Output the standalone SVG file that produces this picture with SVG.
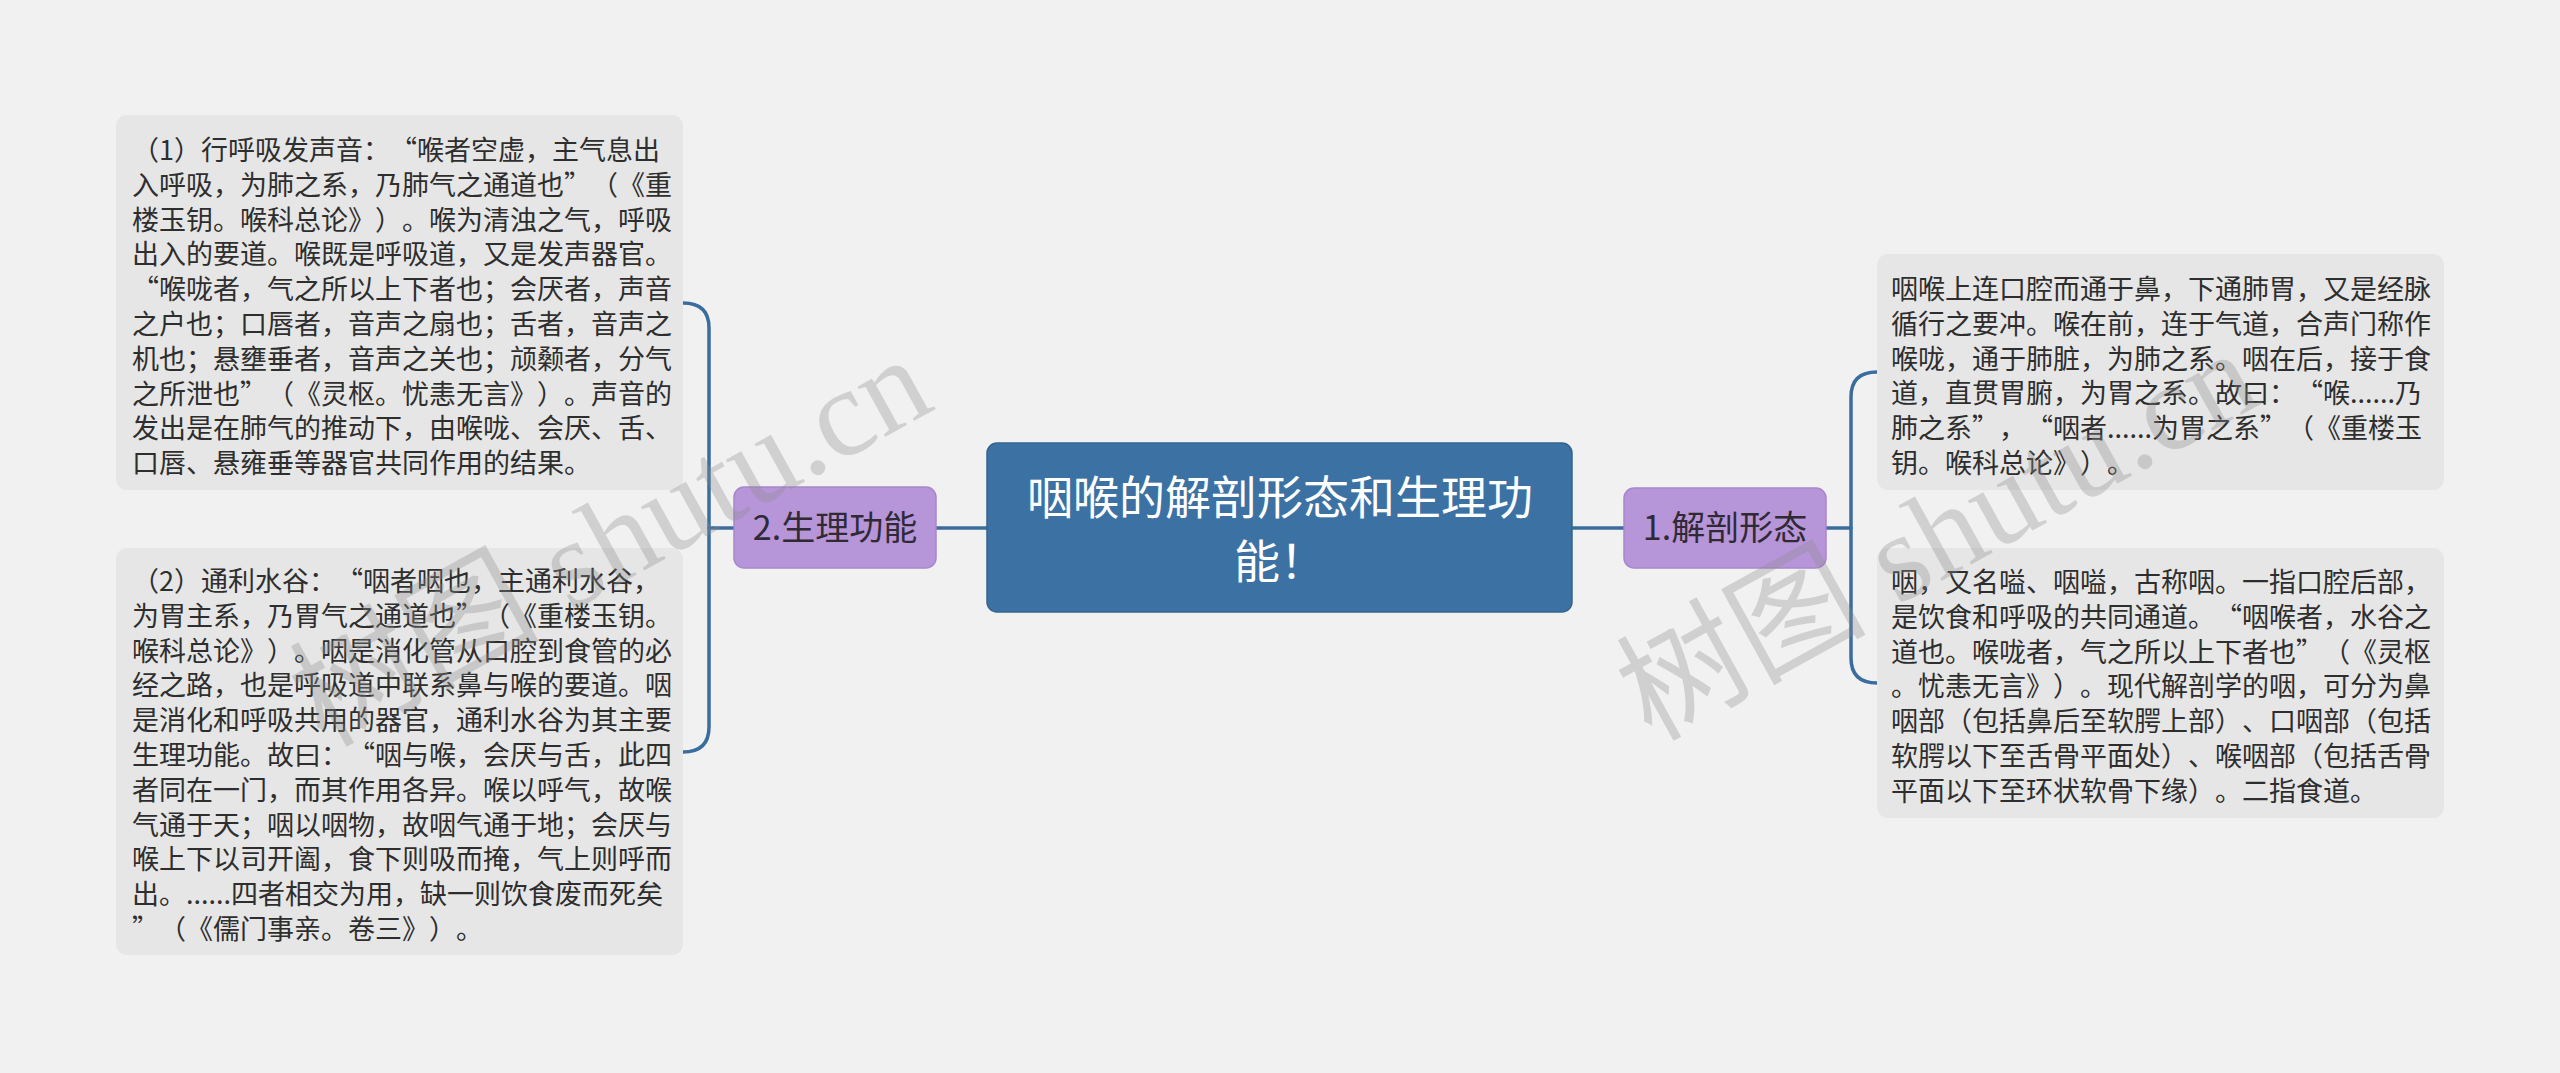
<svg xmlns="http://www.w3.org/2000/svg" width="2560" height="1073" viewBox="0 0 2560 1073">
<style>
.bg{fill:#f1f1f1}
.box{fill:#e6e6e6}
.t{font-family:"Noto Sans CJK SC","Noto Sans",sans-serif;font-size:27px;fill:#2e2e2e;text-spacing-trim:space-all}
.q{font-feature-settings:"fwid" 1}
.sub{fill:#b795d9;stroke:#a886cc;stroke-width:1.5}
.subt{font-family:"Noto Sans CJK SC","Noto Sans",sans-serif;font-size:34px;fill:#2f2a33;text-anchor:middle}
.root{fill:#3c71a3;stroke:#33648f;stroke-width:1.5}
.roott{font-family:"Noto Sans CJK SC","Noto Sans",sans-serif;font-size:46px;fill:#ffffff;text-anchor:middle;text-spacing-trim:space-all}
.ln{fill:none;stroke:#3a6d9e;stroke-width:3.5;stroke-linecap:round}
.wm{font-family:"Liberation Serif","Noto Sans CJK SC",serif;font-size:125px;fill:#8c8c8c;opacity:0.32}
</style>
<rect class="bg" x="0" y="0" width="2560" height="1073"/>

<g id="connectors">
  <path class="ln" d="M987,528 L936,528"/>
  <path class="ln" d="M734,528 L709,528"/>
  <path class="ln" d="M683,303 Q709,303 709,328 L709,727 Q709,752 683,752"/>
  <path class="ln" d="M1572,528 L1624,528"/>
  <path class="ln" d="M1826,528 L1851,528"/>
  <path class="ln" d="M1877,372 Q1851,372 1851,397 L1851,658 Q1851,683 1877,683"/>
</g>

<g id="root">
  <rect class="root" x="987" y="443" width="585" height="169" rx="10"/>
  <text class="roott" x="1280" y="514">咽喉的解剖形态和生理功</text>
  <text class="roott" x="1280" y="578">能！</text>
</g>

<g id="node-left">
  <rect class="sub" x="734" y="487" width="202" height="81" rx="10"/>
  <text class="subt" x="835" y="540">2.生理功能</text>
</g>

<g id="node-right">
  <rect class="sub" x="1624" y="488" width="202" height="80" rx="10"/>
  <text class="subt" x="1725" y="540">1.解剖形态</text>
</g>

<g id="leaf-left-top">
  <rect class="box" x="116" y="115" width="567" height="375" rx="11"/>
  <text class="t">
    <tspan x="132" y="160">（1）行呼吸发声音：<tspan class="q">“</tspan>喉者空虚，主气息出</tspan>
    <tspan x="132" y="194.8">入呼吸，为肺之系，乃肺气之通道也<tspan class="q">”</tspan>（《重</tspan>
    <tspan x="132" y="229.6">楼玉钥。喉科总论》）。喉为清浊之气，呼吸</tspan>
    <tspan x="132" y="264.4">出入的要道。喉既是呼吸道，又是发声器官。</tspan>
    <tspan x="132" y="299.2"><tspan class="q">“</tspan>喉咙者，气之所以上下者也；会厌者，声音</tspan>
    <tspan x="132" y="334">之户也；口唇者，音声之扇也；舌者，音声之</tspan>
    <tspan x="132" y="368.8">机也；悬壅垂者，音声之关也；颃颡者，分气</tspan>
    <tspan x="132" y="403.6">之所泄也<tspan class="q">”</tspan>（《灵枢。忧恚无言》）。声音的</tspan>
    <tspan x="132" y="438.4">发出是在肺气的推动下，由喉咙、会厌、舌、</tspan>
    <tspan x="132" y="473.2">口唇、悬雍垂等器官共同作用的结果。</tspan>
  </text>
</g>

<g id="leaf-left-bottom">
  <rect class="box" x="116" y="548" width="567" height="407" rx="11"/>
  <text class="t">
    <tspan x="132" y="591">（2）通利水谷：<tspan class="q">“</tspan>咽者咽也，主通利水谷，</tspan>
    <tspan x="132" y="625.8">为胃主系，乃胃气之通道也<tspan class="q">”</tspan>（《重楼玉钥。</tspan>
    <tspan x="132" y="660.6">喉科总论》）。咽是消化管从口腔到食管的必</tspan>
    <tspan x="132" y="695.4">经之路，也是呼吸道中联系鼻与喉的要道。咽</tspan>
    <tspan x="132" y="730.2">是消化和呼吸共用的器官，通利水谷为其主要</tspan>
    <tspan x="132" y="765">生理功能。故曰：<tspan class="q">“</tspan>咽与喉，会厌与舌，此四</tspan>
    <tspan x="132" y="799.8">者同在一门，而其作用各异。喉以呼气，故喉</tspan>
    <tspan x="132" y="834.6">气通于天；咽以咽物，故咽气通于地；会厌与</tspan>
    <tspan x="132" y="869.4">喉上下以司开阖，食下则吸而掩，气上则呼而</tspan>
    <tspan x="132" y="904.2">出。......四者相交为用，缺一则饮食废而死矣</tspan>
    <tspan x="132" y="939"><tspan class="q">”</tspan>（《儒门事亲。卷三》）。</tspan>
  </text>
</g>

<g id="leaf-right-top">
  <rect class="box" x="1877" y="254" width="567" height="236" rx="11"/>
  <text class="t">
    <tspan x="1891" y="299">咽喉上连口腔而通于鼻，下通肺胃，又是经脉</tspan>
    <tspan x="1891" y="333.8">循行之要冲。喉在前，连于气道，合声门称作</tspan>
    <tspan x="1891" y="368.6">喉咙，通于肺脏，为肺之系。咽在后，接于食</tspan>
    <tspan x="1891" y="403.4">道，直贯胃腑，为胃之系。故曰：<tspan class="q">“</tspan>喉......乃</tspan>
    <tspan x="1891" y="438.2">肺之系<tspan class="q">”</tspan>，<tspan class="q">“</tspan>咽者......为胃之系<tspan class="q">”</tspan>（《重楼玉</tspan>
    <tspan x="1891" y="473">钥。喉科总论》）。</tspan>
  </text>
</g>

<g id="leaf-right-bottom">
  <rect class="box" x="1877" y="548" width="567" height="270" rx="11"/>
  <text class="t">
    <tspan x="1891" y="592">咽，又名嗌、咽嗌，古称咽。一指口腔后部，</tspan>
    <tspan x="1891" y="626.8">是饮食和呼吸的共同通道。<tspan class="q">“</tspan>咽喉者，水谷之</tspan>
    <tspan x="1891" y="661.6">道也。喉咙者，气之所以上下者也<tspan class="q">”</tspan>（《灵枢</tspan>
    <tspan x="1891" y="696.4">。忧恚无言》）。现代解剖学的咽，可分为鼻</tspan>
    <tspan x="1891" y="731.2">咽部（包括鼻后至软腭上部）、口咽部（包括</tspan>
    <tspan x="1891" y="766">软腭以下至舌骨平面处）、喉咽部（包括舌骨</tspan>
    <tspan x="1891" y="800.8">平面以下至环状软骨下缘）。二指食道。</tspan>
  </text>
</g>

<g id="watermarks">
  <text class="wm" transform="translate(324,748) rotate(-29)">树图 shutu.cn</text>
  <text class="wm" transform="translate(1651,742) rotate(-29)">树图 shutu.cn</text>
</g>
</svg>
